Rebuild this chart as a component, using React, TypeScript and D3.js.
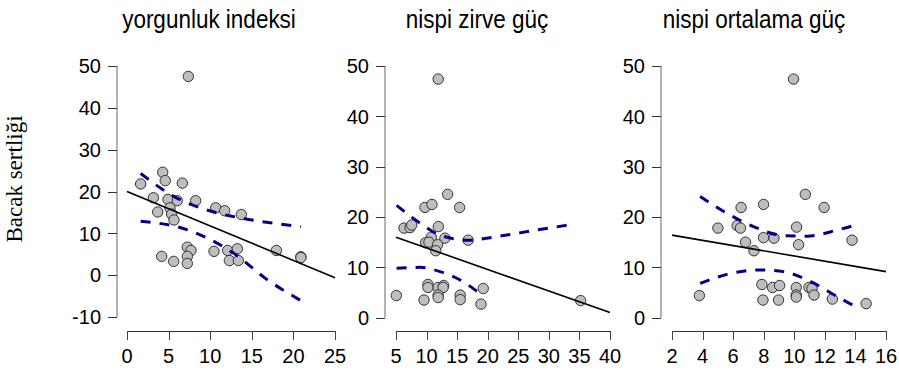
import React from "react";
import * as d3 from "d3";

// panel titles
const titles = ["yorgunluk indeksi", "nispi zirve güç", "nispi ortalama güç"];
const yLabel = "Bacak sertliği";

// yorgunluk indeksi
const p1X = [1.64, 4.29, 4.6, 6.65, 3.17, 4.93, 6.05, 8.25, 3.69, 5.17, 5.37, 5.65, 10.66, 11.74, 13.74, 7.25, 7.69, 7.25, 7.25, 4.17, 5.61, 10.46, 12.1, 13.26, 12.3, 13.38, 17.95, 20.9, 20.9, 7.37];
const p1Y = [21.8, 24.6, 22.6, 22.0, 18.5, 18.1, 17.8, 17.8, 15.1, 16.1, 14.6, 13.2, 16.1, 15.4, 14.5, 6.7, 5.9, 4.5, 2.8, 4.5, 3.3, 5.7, 5.9, 6.3, 3.5, 3.5, 5.9, 4.4, 4.2, 47.5];
const p1Fit = [20.0, -0.824]; // intercept, slope
const p1UpX = [1.64, 5.57, 10.78, 13.6, 20.9];
const p1Up = [24.3, 18.9, 14.9, 13.7, 11.6];
const p1LoX = [1.64, 7.17, 12.78, 16.8, 21.0];
const p1Lo = [12.9, 10.9, 5.3, -1.0, -6.2];

// nispi zirve güç
const p2X = [13.45, 9.74, 10.88, 15.4, 6.31, 7.29, 7.56, 11.92, 10.77, 13.0, 16.8, 9.85, 10.39, 11.8, 11.5, 5.05, 9.58, 10.23, 10.23, 11.9, 12.8, 12.7, 11.9, 11.9, 15.5, 15.5, 19.27, 18.9, 35.2, 11.9];
const p2Y = [24.5, 21.9, 22.5, 21.9, 17.8, 17.9, 18.4, 18.1, 16.0, 15.8, 15.4, 14.9, 15.0, 14.5, 13.3, 4.4, 3.5, 6.6, 6.0, 6.0, 6.4, 6.0, 4.5, 4.0, 4.5, 3.6, 5.8, 2.7, 3.4, 47.4];
const p2Fit = [18.14, -0.428];
const p2UpX = [5.1, 8.92, 12.2, 16.8, 20.9, 26.4, 34.25];
const p2Up = [22.3, 18.8, 16.4, 15.4, 16.0, 17.1, 18.6];
const p2LoX = [5.1, 8.9, 12.2, 15.5, 18.6];
const p2Lo = [9.8, 10.0, 9.15, 7.5, 4.9];

// nispi ortalama güç
const p3X = [10.72, 6.52, 7.99, 11.95, 5.0, 6.26, 6.48, 10.15, 7.99, 8.67, 13.78, 6.81, 10.28, 7.36, 3.79, 7.88, 7.95, 8.58, 9.04, 8.97, 10.13, 10.13, 10.13, 10.96, 11.16, 11.29, 12.49, 14.7, 9.95];
const p3Y = [24.5, 21.9, 22.5, 21.9, 17.8, 18.3, 17.8, 18.0, 15.9, 15.8, 15.4, 15.0, 14.5, 13.3, 4.4, 6.6, 3.5, 6.0, 6.4, 3.5, 6.0, 4.5, 4.1, 6.0, 5.8, 4.5, 3.7, 2.8, 47.4];
const p3Fit = [17.44, -0.518];
const p3UpX = [3.84, 5.59, 7.33, 9.3, 10.83, 12.8, 14.2];
const p3Up = [24.1, 20.75, 18.1, 16.3, 16.2, 17.4, 18.6];
const p3LoX = [3.84, 5.59, 7.77, 9.3, 11.05, 12.8, 14.2];
const p3Lo = [6.8, 8.6, 9.5, 9.15, 7.2, 4.2, 1.9];

const yTicks1 = [-10, 0, 10, 20, 30, 40, 50];
const yTicks = [0, 10, 20, 30, 40, 50];
const xTicks1 = [0, 5, 10, 15, 20, 25];
const xTicks2 = [5, 10, 15, 20, 25, 30, 35, 40];
const xTicks3 = [2, 4, 6, 8, 10, 12, 14, 16];

const W = 899;
const H = 377;
const font = "'Liberation Sans', Arial, sans-serif";
const axisY = 331;
const tickFont = 20;

const panels = [
  {
    title: titles[0], titleX: 209, xs: p1X, ys: p1Y, fit: p1Fit,
    upX: p1UpX, up: p1Up, loX: p1LoX, lo: p1Lo,
    x: d3.scaleLinear().domain([0, 25]).range([127, 335]),
    y: d3.scaleLinear().domain([-10, 50]).range([317, 66]),
    yAxisX: 117, yTicks: yTicks1, xTicks: xTicks1,
  },
  {
    title: titles[1], titleX: 477, xs: p2X, ys: p2Y, fit: p2Fit,
    upX: p2UpX, up: p2Up, loX: p2LoX, lo: p2Lo,
    x: d3.scaleLinear().domain([5, 40]).range([396, 610]),
    y: d3.scaleLinear().domain([0, 50]).range([317.7, 66]),
    yAxisX: 385, yTicks: yTicks, xTicks: xTicks2,
  },
  {
    title: titles[2], titleX: 754, xs: p3X, ys: p3Y, fit: p3Fit,
    upX: p3UpX, up: p3Up, loX: p3LoX, lo: p3Lo,
    x: d3.scaleLinear().domain([2, 16]).range([672, 886]),
    y: d3.scaleLinear().domain([0, 50]).range([317.7, 66]),
    yAxisX: 661, yTicks: yTicks, xTicks: xTicks3,
  },
];

const Panel = ({ p }: { p: any }) => {
  const [x0, x1] = p.x.domain();
  const band = (xs: number[], vs: number[]) =>
    d3.line<number>()
      .x((_, i) => p.x(xs[i]))
      .y((v) => p.y(v))
      .curve(d3.curveMonotoneX)(vs) || "";
  const yMin = p.yTicks[0];
  const yMax = p.yTicks[p.yTicks.length - 1];

  return (
    <g>
      <text
        transform={`translate(${p.titleX},28) scale(0.9,1)`}
        textAnchor="middle" fontFamily={font} fontSize={25} fill="#000"
      >
        {p.title}
      </text>

      {/* y axis */}
      <line x1={p.yAxisX} x2={p.yAxisX} y1={p.y(yMin)} y2={p.y(yMax)} stroke="#666" strokeWidth={1} />
      {p.yTicks.map((t: number) => (
        <g key={t}>
          <line x1={p.yAxisX - 9} x2={p.yAxisX} y1={Math.round(p.y(t)) + 0.5} y2={Math.round(p.y(t)) + 0.5} stroke="#333" />
          <text x={p.yAxisX - 16} y={p.y(t)} dy="0.36em" textAnchor="end" fontFamily={font} fontSize={tickFont}>
            {t}
          </text>
        </g>
      ))}

      {/* x axis */}
      <line x1={p.x(x0)} x2={p.x(x1)} y1={axisY + 0.5} y2={axisY + 0.5} stroke="#333" />
      {p.xTicks.map((t: number) => (
        <g key={t}>
          <line x1={Math.round(p.x(t)) + 0.5} x2={Math.round(p.x(t)) + 0.5} y1={axisY} y2={axisY + 9} stroke="#444" />
          <text x={p.x(t)} y={axisY + 25} dy="0.36em" textAnchor="middle" fontFamily={font} fontSize={tickFont}>
            {t}
          </text>
        </g>
      ))}

      {/* points */}
      {p.xs.map((v: number, i: number) => (
        <circle key={i} cx={p.x(v)} cy={p.y(p.ys[i])} r={5.2} fill="#bebebe" stroke="#333" strokeWidth={1} />
      ))}

      {/* fit and confidence band */}
      <line
        x1={p.x(x0)} x2={p.x(x1)}
        y1={p.y(p.fit[0] + p.fit[1] * x0)} y2={p.y(p.fit[0] + p.fit[1] * x1)}
        stroke="#000" strokeWidth={1.6}
      />
      <path d={band(p.upX, p.up)} fill="none" stroke="#00008b" strokeWidth={3} strokeDasharray="10 9" />
      <path d={band(p.loX, p.lo)} fill="none" stroke="#00008b" strokeWidth={3} strokeDasharray="10 9" />
    </g>
  );
};

export default function App() {
  return (
    <div style={{ position: "absolute", left: 0, top: 0 }}>
      <svg width={W} height={H} style={{ display: "block", background: "#fff" }}>
        <text
          transform="translate(22,179) rotate(-90)"
          textAnchor="middle"
          fontFamily="'Liberation Serif', 'Times New Roman', serif"
          fontSize={23}
        >
          {yLabel}
        </text>
        {panels.map((p, i) => (
          <Panel key={i} p={p} />
        ))}
      </svg>
    </div>
  );
}
